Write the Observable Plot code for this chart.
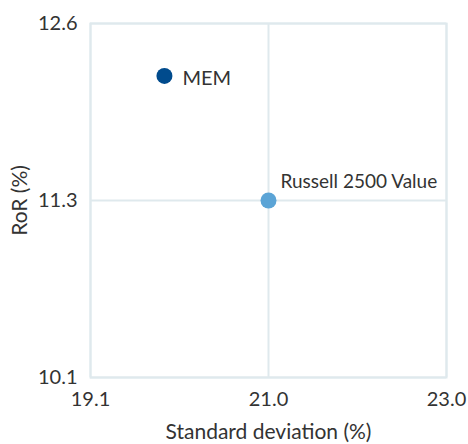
<!DOCTYPE html>
<html>
<head>
<meta charset="utf-8">
<script src="https://cdn.jsdelivr.net/npm/d3@7"></script>
<script src="https://cdn.jsdelivr.net/npm/@observablehq/plot@0.6"></script>
<style>
  html, body { margin: 0; padding: 0; background: #fff; }
  #chart { width: 468px; height: 444px; }
</style>
</head>
<body>
<div id="chart"></div>
<script>
const names = ["MEM", "Russell 2500 Value"];
const stdDev = [19.91, 21.05];
const ror = [12.23, 11.35];
const colors = ["#004b8d", "#5ba4d6"];

const xTickValues = [19.1, 21.05, 23.0];
const xTickLabels = ["19.1", "21.0", "23.0"];
const yTickValues = [10.1, 11.35, 12.6];
const yTickLabels = ["10.1", "11.3", "12.6"];

const data = names.map((n, i) => ({name: n, x: stdDev[i], y: ror[i], color: colors[i]}));
const gridColor = "#dfe9ed";
const textColor = "#333333";

const chart = Plot.plot({
  width: 468,
  height: 444,
  marginLeft: 90,
  marginRight: 22,
  marginTop: 23,
  marginBottom: 67,
  style: {fontFamily: "Lato, sans-serif", fontSize: "20px", color: textColor, background: "#fff"},
  x: {domain: [19.1, 23.0]},
  y: {domain: [10.1, 12.6]},
  marks: [
    Plot.gridX(xTickValues, {stroke: gridColor, strokeOpacity: 1, strokeWidth: 2}),
    Plot.gridY(yTickValues, {stroke: gridColor, strokeOpacity: 1, strokeWidth: 2}),
    Plot.frame({stroke: gridColor, strokeWidth: 2}),
    Plot.axisX({ticks: xTickValues, tickFormat: (d) => xTickLabels[xTickValues.indexOf(d)], tickSize: 0, tickPadding: 14, fontSize: 20, label: null, color: textColor}),
    Plot.axisX({ticks: [], tickSize: 0, fontSize: 21, label: "Standard deviation (%)", labelAnchor: "center", labelArrow: "none", labelOffset: 61, color: textColor}),
    Plot.axisY({ticks: yTickValues, tickFormat: (d) => yTickLabels[yTickValues.indexOf(d)], tickSize: 0, tickPadding: 13, fontSize: 20, label: null, color: textColor}),
    Plot.axisY({ticks: [], tickSize: 0, fontSize: 21, label: "RoR (%)", labelAnchor: "center", labelArrow: "none", labelOffset: 78, color: textColor}),
    Plot.dot(data, {x: "x", y: "y", r: 8, fill: "color", stroke: null}),
    Plot.text(data.slice(0, 1), {x: "x", y: "y", text: "name", dx: 18, dy: 3, textAnchor: "start", fill: textColor, fontSize: 20}),
    Plot.text(data.slice(1), {x: "x", y: "y", text: "name", dx: 12, dy: -19, textAnchor: "start", fill: textColor, fontSize: 19})
  ]
});
document.getElementById("chart").appendChild(chart);
</script>
</body>
</html>
